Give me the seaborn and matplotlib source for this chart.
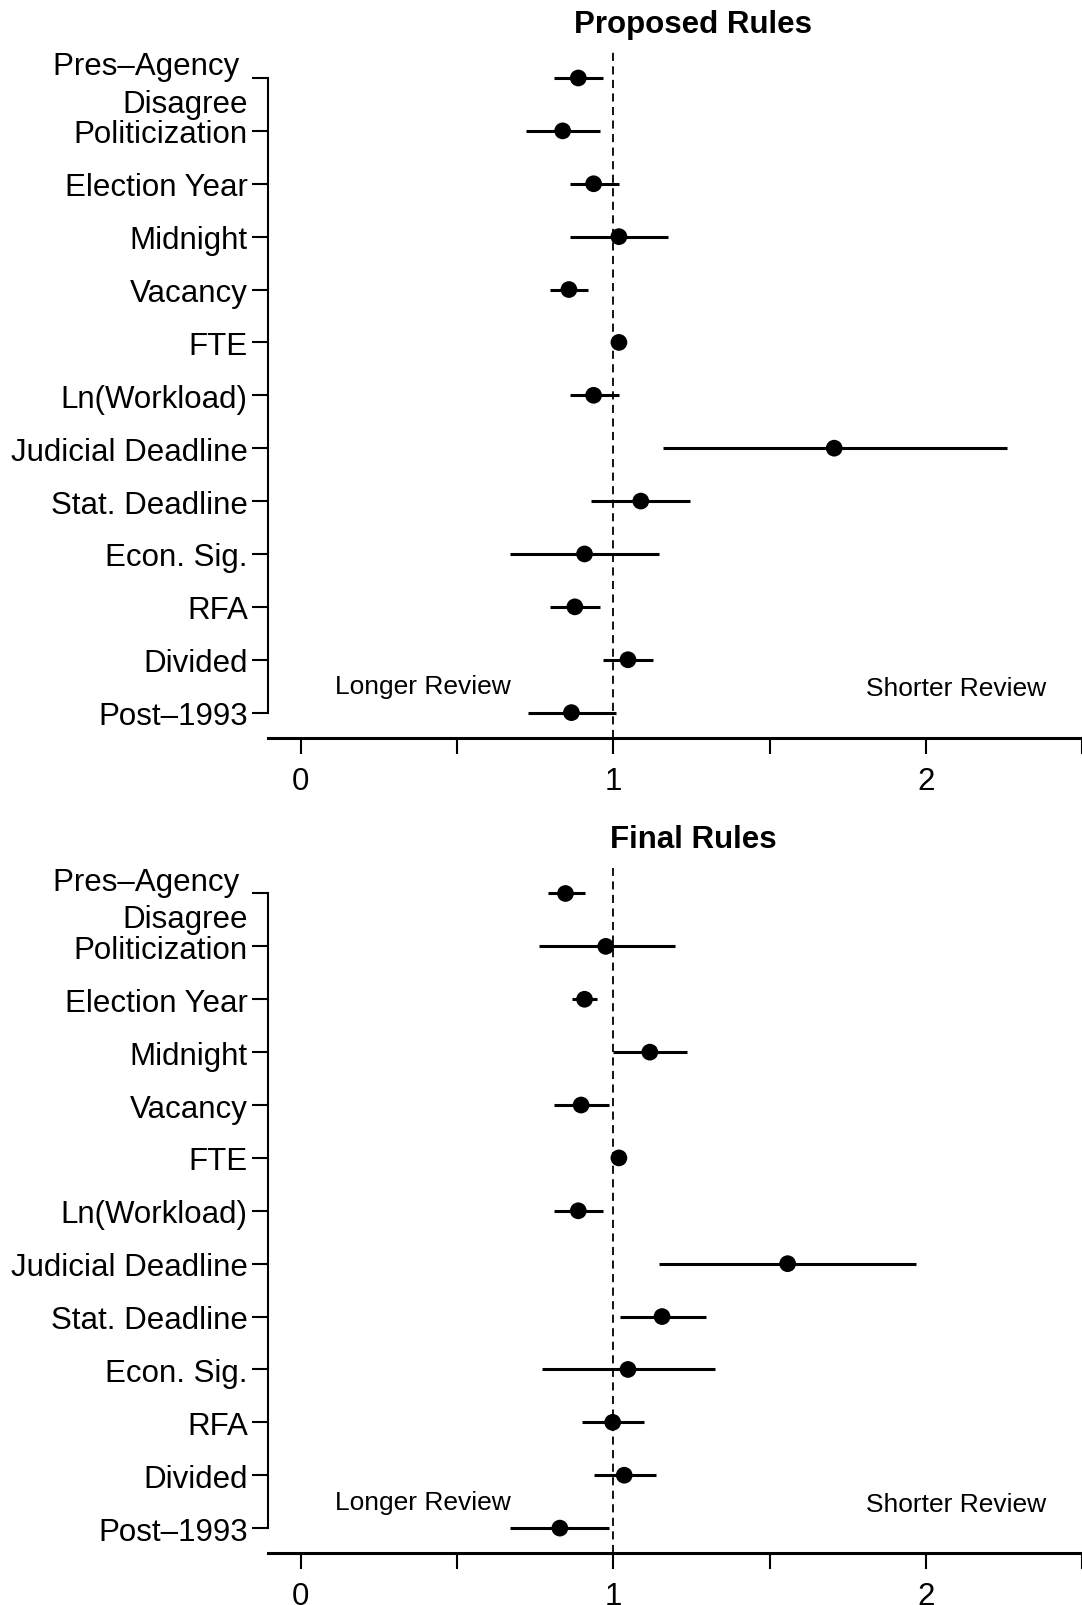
import numpy as np
import pandas as pd
import matplotlib
matplotlib.use("Agg")
import matplotlib.pyplot as plt
import matplotlib.transforms as mtransforms
import seaborn as sns

# variable names, top to bottom
labels = ["Pres\u2013Agency \nDisagree", "Politicization", "Election Year", "Midnight",
          "Vacancy", "FTE", "Ln(Workload)", "Judicial Deadline", "Stat. Deadline",
          "Econ. Sig.", "RFA", "Divided", "Post\u20131993"]

# proposed rules: estimate and interval
prop_est = [0.888, 0.838, 0.937, 1.018, 0.858, 1.018, 0.937, 1.707, 1.088, 0.908, 0.877, 1.047, 0.866]
prop_lo = [0.810, 0.722, 0.860, 0.860, 0.798, 1.012, 0.860, 1.158, 0.930, 0.671, 0.798, 0.967, 0.728]
prop_hi = [0.967, 0.956, 1.018, 1.176, 0.919, 1.024, 1.018, 2.260, 1.246, 1.145, 0.959, 1.128, 1.009]

# final rules
fin_est = [0.847, 0.976, 0.908, 1.117, 0.897, 1.018, 0.888, 1.558, 1.156, 1.047, 0.998, 1.035, 0.829]
fin_lo = [0.790, 0.761, 0.869, 0.998, 0.810, 1.012, 0.810, 1.145, 1.022, 0.772, 0.899, 0.939, 0.671]
fin_hi = [0.908, 1.198, 0.948, 1.237, 0.987, 1.024, 0.967, 1.970, 1.297, 1.325, 1.097, 1.136, 0.987]

x_ticks = [0, 0.5, 1, 1.5, 2, 2.5]
x_ticklabels = ["0", "", "1", "", "2", ""]

sns.set_style("white")
plt.rcParams['font.family'] = ['Liberation Sans', 'DejaVu Sans']
plt.rcParams['text.color'] = 'black'
plt.rcParams['xtick.color'] = 'black'
plt.rcParams['ytick.color'] = 'black'

fig = plt.figure(figsize=(10.82, 16.06), dpi=100)

panels = [("Proposed Rules", prop_est, prop_lo, prop_hi, 0.53985, 0.9795),
          ("Final Rules", fin_est, fin_lo, fin_hi, 0.03207, 0.4717)]

for title, est, lo, hi, bottom, title_y in panels:
    ax = fig.add_axes([268 / 1082, bottom, 1 - 268 / 1082, 0.4271])
    df = pd.DataFrame({"var": labels, "pos": np.arange(len(labels)),
                       "est": est, "lo": lo, "hi": hi})

    ax.axvline(1, color="black", lw=1.3, ls=(0, (4.5, 3)), zorder=1)
    ax.hlines(df["pos"], df["lo"], df["hi"], color="black", lw=2.2, zorder=2)
    sns.scatterplot(data=df, x="est", y="pos", ax=ax, color="black",
                    s=145, edgecolor="none", zorder=3)

    ax.set_xlim(-0.105, 2.483)
    ax.set_ylim(12.48, -0.49)
    ax.set_yticks(df["pos"])
    ax.set_yticklabels(labels)
    ax.set_xticks(x_ticks)
    ax.set_xticklabels(x_ticklabels)
    ax.set_xlabel("")
    ax.set_ylabel("")

    # two-line label sits a bit high in the original
    first = ax.get_yticklabels()[0]
    first.set_linespacing(1.32)
    first.set_transform(first.get_transform() +
                        mtransforms.ScaledTranslation(0, 0.035, fig.dpi_scale_trans))

    for s in ["top", "right"]:
        ax.spines[s].set_visible(False)
    ax.spines["left"].set_bounds(0, 12)
    ax.spines["left"].set_linewidth(1.5)
    ax.spines["bottom"].set_linewidth(2.2)
    ax.spines["left"].set_color("black")
    ax.spines["bottom"].set_color("black")

    ax.tick_params(axis="y", left=True, length=11.5, width=1.5, pad=3,
                   labelsize=22.5, colors="black")
    ax.tick_params(axis="x", bottom=True, length=11.5, width=1.5, pad=8.5,
                   labelsize=22.5, colors="black")

    ax.text(0.392, 11.63, "Longer Review", ha="center", va="baseline", fontsize=19)
    ax.text(2.097, 11.67, "Shorter Review", ha="center", va="baseline", fontsize=19)

    fig.text(693.5 / 1082, title_y, title, ha="center", va="baseline",
             fontsize=22.5, fontweight="bold", color="black")

plt.savefig("out.png", dpi=100)
